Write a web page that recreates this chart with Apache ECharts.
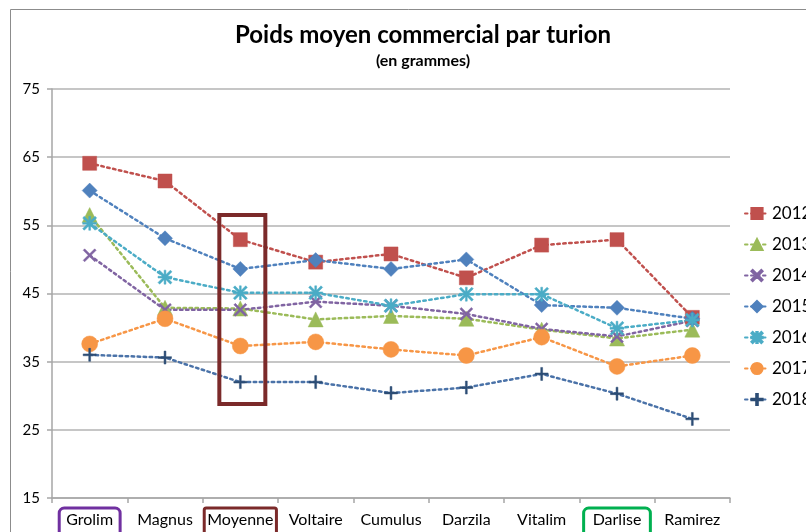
<!DOCTYPE html>
<html>
<head>
<meta charset="utf-8">
<script src="https://cdn.jsdelivr.net/npm/echarts@6/dist/echarts.min.js"></script>
<style>html,body{margin:0;padding:0;background:#fff;}#c{width:806px;height:532px;}</style>
</head>
<body>
<div id="c"></div>
<script>
const categories = ['Grolim','Magnus','Moyenne','Voltaire','Cumulus','Darzila','Vitalim','Darlise','Ramirez'];
const seriesNames = ['2012','2013','2014','2015','2016','2017','2018'];
const s2012 = [64.1,61.5,52.9,49.6,50.8,47.3,52.1,52.9,41.5];
const s2013 = [56.5,42.9,42.8,41.2,41.7,41.3,39.7,38.4,39.7];
const s2014 = [50.6,42.6,42.6,43.8,43.2,42.0,39.8,38.7,41.0];
const s2015 = [60.1,53.1,48.6,49.9,48.6,50.0,43.3,42.9,41.3];
const s2016 = [55.3,47.4,45.1,45.1,43.2,44.9,44.9,39.9,41.1];
const s2017 = [37.6,41.3,37.3,37.9,36.8,35.9,38.6,34.3,35.9];
const s2018 = [36.0,35.6,32.0,32.0,30.4,31.2,33.2,30.3,26.6];
const yTicks = [15,25,35,45,55,65,75];
const highlightCategory = 'Moyenne';
const highlightRange = [28.8, 56.5];

const FONT = 'Lato, "Open Sans", sans-serif';
const XPATH = 'M0,1.6L1.6,0L7,5.4L12.4,0L14,1.6L8.6,7L14,12.4L12.4,14L7,8.6L1.6,14L0,12.4L5.4,7Z';
const PLUS = 'M6,0H8V6H14V8H8V14H6V8H0V6H6Z';
const STAR = 'M0,1.6L1.6,0L7,5.4L12.4,0L14,1.6L8.6,7L14,12.4L12.4,14L7,8.6L1.6,14L0,12.4L5.4,7Z M6.1,0H7.9V6.1H14V7.9H7.9V14H6.1V7.9H0V6.1H6.1Z';

const styles = [
  {data:s2012, color:'#C0504D', symbol:'rect', size:14},
  {data:s2013, color:'#9BBB59', symbol:'triangle', size:15},
  {data:s2014, color:'#8064A2', symbol:'path://'+XPATH, size:13},
  {data:s2015, color:'#4F81BD', symbol:'diamond', size:15},
  {data:s2016, color:'#4BACC6', symbol:'path://'+STAR, size:14},
  {data:s2017, color:'#F79646', symbol:'circle', size:16},
  {data:s2018, color:'#2C4D75', symbol:'path://'+PLUS, size:13, line:'#4A72A8'}
];

const boxed = {Grolim:'p', Moyenne:'r', Darlise:'g'};
const chart = echarts.init(document.getElementById('c'));
const option = {
  animation:false,
  backgroundColor:'#fff',
  title:{
    text:'Poids moyen commercial par turion',
    subtext:'(en grammes)',
    left:418, textAlign:'center', top:18, itemGap:6,
    textStyle:{fontFamily:FONT, fontSize:24, fontWeight:'bold', color:'#000'},
    subtextStyle:{fontFamily:FONT, fontSize:16, fontWeight:'bold', color:'#000'}
  },
  legend:{
    orient:'vertical', left:739, top:200, itemGap:14,
    itemWidth:24, itemHeight:14,
    data:seriesNames,
    textStyle:{fontFamily:FONT, fontSize:17, color:'#000', padding:[0,0,0,-2]}
  },
  grid:{left:52, right:76, top:89, bottom:34, containLabel:false, outerBoundsMode:'none'},
  xAxis:{
    type:'category', data:categories, boundaryGap:true,
    axisLine:{lineStyle:{color:'#A6A6A6', width:1.5}},
    axisTick:{show:true, length:5, lineStyle:{color:'#A6A6A6', width:1.5}},
    axisLabel:{
      margin:10, interval:0, hideOverlap:false,
      fontFamily:FONT, fontSize:16, color:'#000',
      formatter:function(v){ return '{' + (boxed[v]||'n') + '|' + v + '}'; },
      rich:{
        n:{fontFamily:FONT, fontSize:16, color:'#000', padding:[4,4,10,4]},
        p:{fontFamily:FONT, fontSize:16, color:'#000', padding:[4,7,10,7], borderColor:'#7030A0', borderWidth:3, borderRadius:5},
        r:{fontFamily:FONT, fontSize:16, color:'#000', padding:[4,3,10,3], borderColor:'#7B2A2A', borderWidth:3, borderRadius:2},
        g:{fontFamily:FONT, fontSize:16, color:'#000', padding:[4,9,10,9], borderColor:'#00B050', borderWidth:3, borderRadius:5}
      }
    }
  },
  yAxis:{
    type:'value', min:yTicks[0], max:yTicks[yTicks.length-1], interval:10,
    axisLine:{show:true, lineStyle:{color:'#A6A6A6', width:1.5}},
    axisTick:{show:true, length:5, lineStyle:{color:'#A6A6A6', width:1.5}},
    splitLine:{show:true, lineStyle:{color:'#B3B3B3', width:1.5}},
    axisLabel:{fontFamily:FONT, fontSize:15, color:'#000', margin:12}
  },
  series: styles.map((s,i)=>({
    name:seriesNames[i], type:'line', data:s.data,
    symbol:s.symbol, symbolSize:s.size, symbolKeepAspect:true,
    showAllSymbol:true,
    lineStyle:{color:s.line||s.color, width:2.5, type:[2.5,3.5], cap:'round'},
    itemStyle:{color:s.color, borderColor:s.color, borderWidth:0.5, opacity:1}
  }))
};
chart.setOption(option);
const pTop = chart.convertToPixel({xAxisIndex:0, yAxisIndex:0}, [highlightCategory, highlightRange[1]]);
const pBot = chart.convertToPixel({xAxisIndex:0, yAxisIndex:0}, [highlightCategory, highlightRange[0]]);
chart.setOption({graphic:[
  {type:'rect', left:8, top:7, shape:{x:0,y:0,width:900,height:600}, style:{fill:'none', stroke:'#8C8C8C', lineWidth:1}, silent:true, z:-1},
  {type:'rect', shape:{x:pTop[0]-21, y:pTop[1], width:46, height:pBot[1]-pTop[1]}, style:{fill:'none', stroke:'#7B2A2A', lineWidth:4}, z:100}
]});
</script>
</body>
</html>
